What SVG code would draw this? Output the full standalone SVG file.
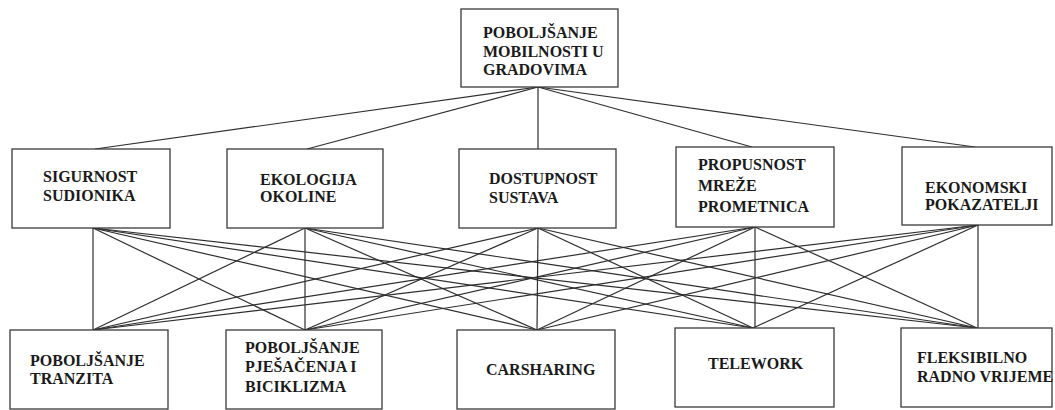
<svg xmlns="http://www.w3.org/2000/svg" width="1055" height="410" viewBox="0 0 1055 410">
  <style>
    .box { fill: #ffffff; stroke: #3a3a3a; stroke-width: 1.3; }
    .lbl { font-family: 'Liberation Serif', 'Times New Roman', serif; font-weight: 700; font-size: 16px; fill: #1a1a1a; text-transform: none; font-variant: normal; }
    .conn line { stroke: #2e2e2e; stroke-width: 1.2; }
  </style>
  <rect width="1055" height="410" fill="#ffffff"/>

  <!-- connectors: goal to criteria, criteria to measures -->
  <g id="connectors" class="conn">
    <line x1="538" y1="87" x2="95" y2="149"/>
    <line x1="538" y1="87" x2="307" y2="149"/>
    <line x1="538" y1="87" x2="538" y2="149"/>
    <line x1="538" y1="87" x2="752" y2="147"/>
    <line x1="538" y1="87" x2="975" y2="147"/>

    <line x1="93" y1="228" x2="93" y2="330"/>
    <line x1="93" y1="228" x2="305" y2="330"/>
    <line x1="93" y1="228" x2="537" y2="330"/>
    <line x1="93" y1="228" x2="753" y2="328"/>
    <line x1="93" y1="228" x2="977" y2="328"/>

    <line x1="305" y1="228" x2="93" y2="330"/>
    <line x1="305" y1="228" x2="305" y2="330"/>
    <line x1="305" y1="228" x2="537" y2="330"/>
    <line x1="305" y1="228" x2="753" y2="328"/>
    <line x1="305" y1="228" x2="977" y2="328"/>

    <line x1="538" y1="228" x2="93" y2="330"/>
    <line x1="538" y1="228" x2="305" y2="330"/>
    <line x1="538" y1="228" x2="537" y2="330"/>
    <line x1="538" y1="228" x2="753" y2="328"/>
    <line x1="538" y1="228" x2="977" y2="328"/>

    <line x1="755" y1="227" x2="93" y2="330"/>
    <line x1="755" y1="227" x2="305" y2="330"/>
    <line x1="755" y1="227" x2="537" y2="330"/>
    <line x1="755" y1="227" x2="755" y2="328"/>
    <line x1="755" y1="227" x2="977" y2="328"/>

    <line x1="978" y1="225" x2="93" y2="330"/>
    <line x1="978" y1="225" x2="305" y2="330"/>
    <line x1="978" y1="225" x2="537" y2="330"/>
    <line x1="978" y1="225" x2="753" y2="328"/>
    <line x1="978" y1="225" x2="978" y2="328"/>
  </g>

  <g font-family="Liberation Serif, Times New Roman, serif" font-weight="bold" font-size="16">
  <!-- goal -->
  <g id="goal">
    <rect class="box" x="461" y="9" width="157" height="78"/>
    <text class="lbl" x="483" y="38">POBOLJŠANJE</text>
    <text class="lbl" x="483" y="57">MOBILNOSTI U</text>
    <text class="lbl" x="483" y="75">GRADOVIMA</text>
  </g>

  <!-- criteria -->
  <g id="sigurnost">
    <rect class="box" x="12" y="149" width="158" height="79"/>
    <text class="lbl" x="43" y="182">SIGURNOST</text>
    <text class="lbl" x="43" y="201">SUDIONIKA</text>
  </g>
  <g id="ekologija">
    <rect class="box" x="227" y="149" width="156" height="79"/>
    <text class="lbl" x="260" y="185">EKOLOGIJA</text>
    <text class="lbl" x="260" y="202">OKOLINE</text>
  </g>
  <g id="dostupnost">
    <rect class="box" x="459" y="149" width="157" height="79"/>
    <text class="lbl" x="489" y="184">DOSTUPNOST</text>
    <text class="lbl" x="489" y="203">SUSTAVA</text>
  </g>
  <g id="propusnost">
    <rect class="box" x="676" y="147" width="158" height="80"/>
    <text class="lbl" x="698" y="170">PROPUSNOST</text>
    <text class="lbl" x="698" y="191">MREŽE</text>
    <text class="lbl" x="698" y="212">PROMETNICA</text>
  </g>
  <g id="ekonomski">
    <rect class="box" x="902" y="147" width="150" height="78"/>
    <text class="lbl" x="925" y="193">EKONOMSKI</text>
    <text class="lbl" x="925" y="210">POKAZATELJI</text>
  </g>

  <!-- measures -->
  <g id="tranzit">
    <rect class="box" x="10" y="330" width="158" height="79"/>
    <text class="lbl" x="30" y="366">POBOLJŠANJE</text>
    <text class="lbl" x="30" y="384">TRANZITA</text>
  </g>
  <g id="pjesacenje">
    <rect class="box" x="226" y="330" width="156" height="79"/>
    <text class="lbl" x="245" y="353">POBOLJŠANJE</text>
    <text class="lbl" x="245" y="372">PJEŠAČENJA I</text>
    <text class="lbl" x="245" y="392">BICIKLIZMA</text>
  </g>
  <g id="carsharing">
    <rect class="box" x="457" y="330" width="158" height="79"/>
    <text class="lbl" x="486" y="375">CARSHARING</text>
  </g>
  <g id="telework">
    <rect class="box" x="675" y="328" width="159" height="79"/>
    <text class="lbl" x="708" y="369">TELEWORK</text>
  </g>
  <g id="fleksibilno">
    <rect class="box" x="901" y="328" width="151" height="79"/>
    <text class="lbl" x="917" y="363">FLEKSIBILNO</text>
    <text class="lbl" x="917" y="382">RADNO VRIJEME</text>
  </g>
  </g>
</svg>
